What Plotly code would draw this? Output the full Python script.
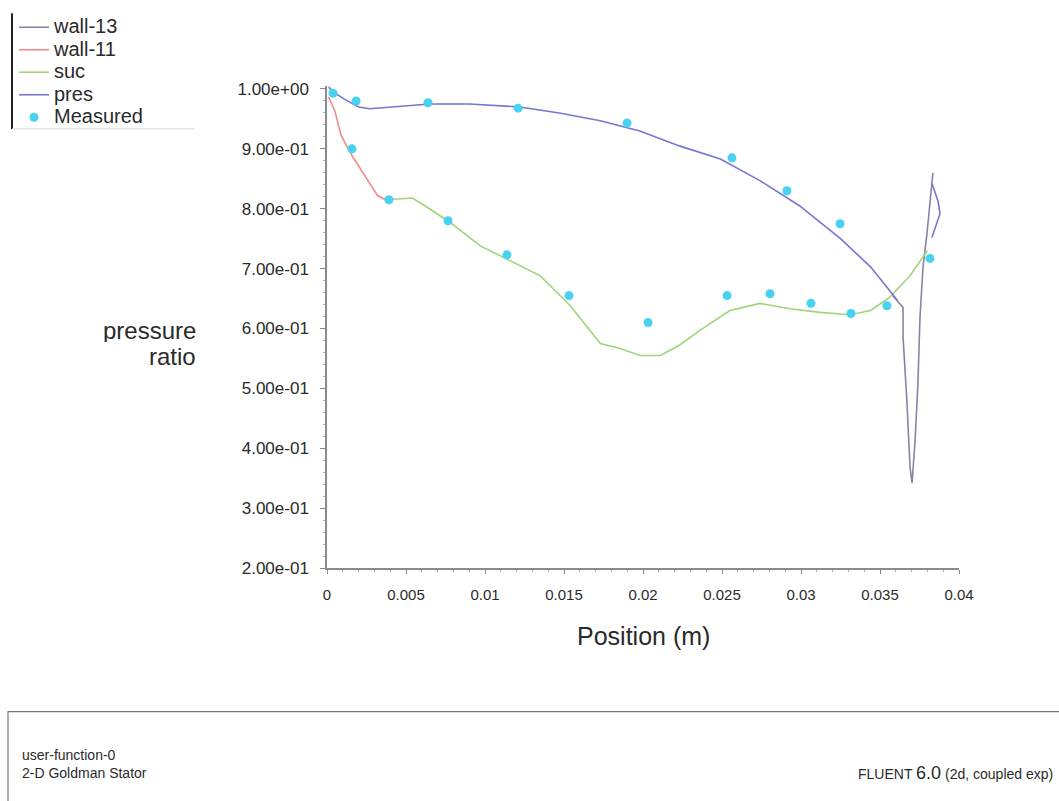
import plotly.graph_objects as go

# ---------------- data ----------------
pres_x = [0.0001, 0.0005, 0.0011, 0.0020, 0.0027, 0.0040, 0.0065, 0.0090, 0.0122, 0.0147,
          0.0173, 0.0198, 0.0223, 0.0249, 0.0274, 0.0299, 0.0325, 0.0344, 0.0356, 0.0361,
          None, 0.03829, 0.03867, 0.0388, 0.03829]
pres_y = [1.003, 0.993, 0.983, 0.970, 0.967, 0.970, 0.975, 0.975, 0.970, 0.960,
          0.947, 0.930, 0.905, 0.883, 0.847, 0.805, 0.750, 0.703, 0.663, 0.647,
          None, 0.842, 0.813, 0.792, 0.752]

wall11_x = [0.0001, 0.0005, 0.0009, 0.0016, 0.0024, 0.0032, 0.0037]
wall11_y = [0.987, 0.963, 0.922, 0.888, 0.855, 0.822, 0.815]

suc_x = [0.0037, 0.0046, 0.0054, 0.0062, 0.0078, 0.0097, 0.0116, 0.0135, 0.0154, 0.0173,
         0.0185, 0.0198, 0.0211, 0.0223, 0.0236, 0.0255, 0.0274, 0.0293, 0.0312, 0.0331,
         0.0344, 0.0356, 0.0369, 0.0380]
suc_y = [0.815, 0.817, 0.818, 0.805, 0.777, 0.738, 0.713, 0.688, 0.638, 0.575,
         0.567, 0.555, 0.555, 0.572, 0.597, 0.630, 0.642, 0.633, 0.627, 0.623,
         0.630, 0.652, 0.688, 0.730]

wall13_x = [0.0358, 0.03646, 0.03646, 0.0367, 0.0369, 0.03703, 0.03722, 0.0374, 0.03753,
            0.03772, 0.03797, 0.03829, 0.03835]
wall13_y = [0.655, 0.635, 0.585, 0.480, 0.368, 0.342, 0.413, 0.508, 0.618,
            0.702, 0.758, 0.842, 0.860]

meas_x = [0.00038, 0.00184, 0.00158, 0.00392, 0.00639, 0.00766, 0.01139, 0.01209, 0.01532, 0.01899,
          0.02032, 0.02532, 0.02563, 0.02804, 0.02911, 0.03063, 0.03247, 0.03316, 0.03544, 0.03816]
meas_y = [0.993, 0.980, 0.900, 0.815, 0.977, 0.780, 0.723, 0.968, 0.655, 0.943,
          0.610, 0.655, 0.885, 0.658, 0.830, 0.642, 0.775, 0.625, 0.638, 0.717]

series_names = ["wall-13", "wall-11", "suc", "pres", "Measured"]

x_tickvals = [0, 0.005, 0.01, 0.015, 0.02, 0.025, 0.03, 0.035, 0.04]
x_ticktext = ["0", "0.005", "0.01", "0.015", "0.02", "0.025", "0.03", "0.035", "0.04"]
y_tickvals = [0.2, 0.3, 0.4, 0.5, 0.6, 0.7, 0.8, 0.9, 1.0]
y_ticktext = ["2.00e-01", "3.00e-01", "4.00e-01", "5.00e-01", "6.00e-01",
              "7.00e-01", "8.00e-01", "9.00e-01", "1.00e+00"]

# ---------------- layout geometry ----------------
W, H = 1059, 801
ML, MR, MT, MB = 327, 100, 85, 233
PW, PH = W - ML - MR, H - MT - MB


def px(xp):
    return (xp - ML) / PW


def py(yp):
    return (H - MB - yp) / PH


def big(name):
    # larger visible legend text while keeping compact legend row spacing
    return "<span style='font-size:20px'>" + name + "</span>"


FONT = "Liberation Sans, Arial, sans-serif"
TXT = "#2a2a2a"

fig = go.Figure()
fig.add_trace(go.Scatter(x=wall13_x, y=wall13_y, mode="lines", name=big(series_names[0]),
                         line=dict(color="#8a82a6", width=1.6)))
fig.add_trace(go.Scatter(x=wall11_x, y=wall11_y, mode="lines", name=big(series_names[1]),
                         line=dict(color="#f08a8a", width=1.6)))
fig.add_trace(go.Scatter(x=suc_x, y=suc_y, mode="lines", name=big(series_names[2]),
                         line=dict(color="#9ed47a", width=1.6)))
fig.add_trace(go.Scatter(x=pres_x, y=pres_y, mode="lines", name=big(series_names[3]),
                         line=dict(color="#7676d2", width=1.6), connectgaps=False))
fig.add_trace(go.Scatter(x=meas_x, y=meas_y, mode="markers", name=big(series_names[4]),
                         marker=dict(color="#48d2f0", size=9, symbol="circle",
                                     line=dict(width=0))))

fig.update_layout(
    width=W, height=H,
    margin=dict(l=ML, r=MR, t=MT, b=MB),
    paper_bgcolor="white", plot_bgcolor="white",
    font=dict(family=FONT, color=TXT),
    showlegend=True,
    legend=dict(x=px(14), y=py(11), xanchor="left", yanchor="top",
                font=dict(size=15, color=TXT, family=FONT),
                bgcolor="rgba(0,0,0,0)", itemwidth=30, tracegroupgap=0),
    xaxis=dict(range=[0, 0.04], tickvals=x_tickvals, ticktext=x_ticktext,
               showgrid=False, zeroline=False, showline=True, linecolor="#8a8a8a",
               linewidth=1.5, ticks="outside", ticklen=4, tickcolor="#8a8a8a",
               ticklabelstandoff=8,
               tickfont=dict(size=15, color=TXT),
               minor=dict(ticks="outside", ticklen=2, dtick=0.001, tickcolor="#b0b0b0")),
    yaxis=dict(range=[0.2, 1.005], tickvals=y_tickvals, ticktext=y_ticktext,
               showgrid=False, zeroline=False, showline=True, linecolor="#8a8a8a",
               linewidth=1.5, ticks="outside", ticklen=5, tickcolor="#8a8a8a",
               ticklabelstandoff=8,
               tickfont=dict(size=17, color=TXT),
               minor=dict(ticks="outside", ticklen=2, dtick=0.02, tickcolor="#b0b0b0")),
)

# axis titles (two lines, right aligned, tight spacing as in the reference)
fig.add_annotation(xref="paper", yref="paper", x=px(198), y=py(330),
                   xanchor="right", yanchor="middle", showarrow=False, height=24,
                   text="pressure", font=dict(size=24, color=TXT, family=FONT))
fig.add_annotation(xref="paper", yref="paper", x=px(198), y=py(356),
                   xanchor="right", yanchor="middle", showarrow=False, height=24,
                   text="ratio", font=dict(size=24, color=TXT, family=FONT))
fig.add_annotation(xref="paper", yref="paper", x=px(643), y=py(636),
                   xanchor="center", yanchor="middle", showarrow=False,
                   text="Position (m)", font=dict(size=25, color=TXT, family=FONT))

# legend frame lines
fig.add_shape(type="line", xref="paper", yref="paper",
              x0=px(12), x1=px(12), y0=py(12), y1=py(128),
              line=dict(color="#222222", width=2))
fig.add_shape(type="line", xref="paper", yref="paper",
              x0=px(12), x1=px(195), y0=py(128), y1=py(128),
              line=dict(color="#d8d8d8", width=1))

# bottom info box
fig.add_shape(type="rect", xref="paper", yref="paper",
              x0=px(8), x1=px(1070), y0=py(712), y1=py(812),
              line=dict(color="#777777", width=1.2), fillcolor="rgba(0,0,0,0)")
fig.add_annotation(xref="paper", yref="paper", x=px(20), y=py(755),
                   xanchor="left", yanchor="middle", showarrow=False,
                   text="user-function-0", font=dict(size=14, color=TXT, family=FONT))
fig.add_annotation(xref="paper", yref="paper", x=px(20), y=py(773),
                   xanchor="left", yanchor="middle", showarrow=False,
                   text="2-D Goldman Stator", font=dict(size=14, color=TXT, family=FONT))
fig.add_annotation(xref="paper", yref="paper", x=px(1055), y=py(773),
                   xanchor="right", yanchor="middle", showarrow=False,
                   text="FLUENT <span style='font-size:18px'>6.0</span> (2d, coupled exp)",
                   font=dict(size=14, color=TXT, family=FONT))

fig.write_html("out.html")
